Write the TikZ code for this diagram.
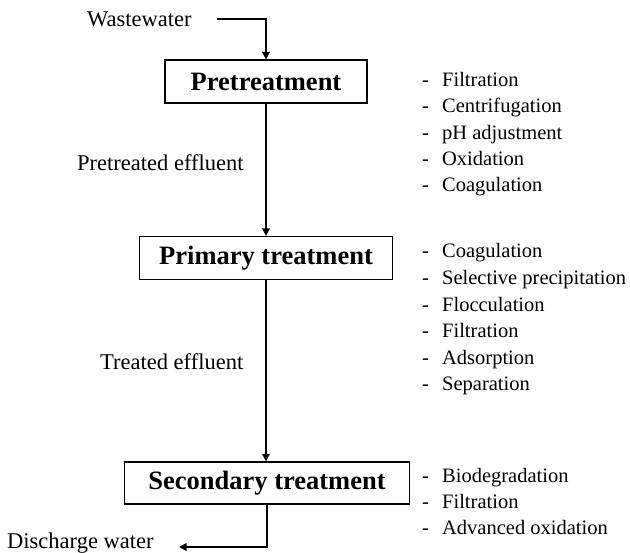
\documentclass[tikz,border=0pt]{standalone}
\usepackage{fontspec}
\setmainfont{Liberation Serif}
\usetikzlibrary{arrows.meta}
\begin{document}
\begin{tikzpicture}[x=1pt,y=-1pt,
  box/.style={draw,line width=1.2pt,inner sep=0pt,minimum height=43pt,font=\fontsize{26.5}{30}\selectfont\bfseries},
  lab/.style={inner sep=0pt,anchor=base west,font=\fontsize{22.5}{26}\selectfont},
  itm/.style={inner sep=0pt,anchor=base west,font=\fontsize{20.5}{24}\selectfont},
  arr/.style={line width=1.7pt,-{Triangle[length=7.5pt,width=7.5pt]}}]
\useasboundingbox (0,0) rectangle (630,553);
% boxes
\node[box,minimum width=202pt] (pre) at (266,81.5) {Pretreatment};
\node[box,minimum width=253pt] (prim) at (266,258) {Primary treatment};
\node[box,minimum width=285pt,minimum height=42pt] (sec) at (267,483) {Secondary treatment};
% labels
\node[lab] (ww) at (87,27) {Wastewater};
\node[lab] (pe) at (77,171) {Pretreated effluent};
\node[lab] (te) at (100,370) {Treated effluent};
\node[lab] (dw) at (7,549) {Discharge water};
\coordinate (wwout) at (217,19);
\coordinate (dwin) at (179,547);
% connectors
\draw[arr] (wwout) -| (pre.north);
\draw[arr] (pre.south) -- (prim.north -| pre.south);
\draw[arr] (prim.south) -- (sec.north -| prim.south);
\draw[arr] (sec.south) |- (dwin);
% lists
\foreach \t [count=\i from 0] in {Filtration,Centrifugation,pH adjustment,Oxidation,Coagulation}
  \node[itm] (a\i) at (422,86.5+26.3*\i) {\makebox[20pt][l]{-}\t};
\foreach \t [count=\i from 0] in {Coagulation,Selective precipitation,Flocculation,Filtration,Adsorption,Separation}
  \node[itm] (b\i) at (422,258+26.6*\i) {\makebox[20pt][l]{-}\t};
\foreach \t [count=\i from 0] in {Biodegradation,Filtration,Advanced oxidation}
  \node[itm] (c\i) at (422,483+26*\i) {\makebox[20pt][l]{-}\t};
\end{tikzpicture}
\end{document}
